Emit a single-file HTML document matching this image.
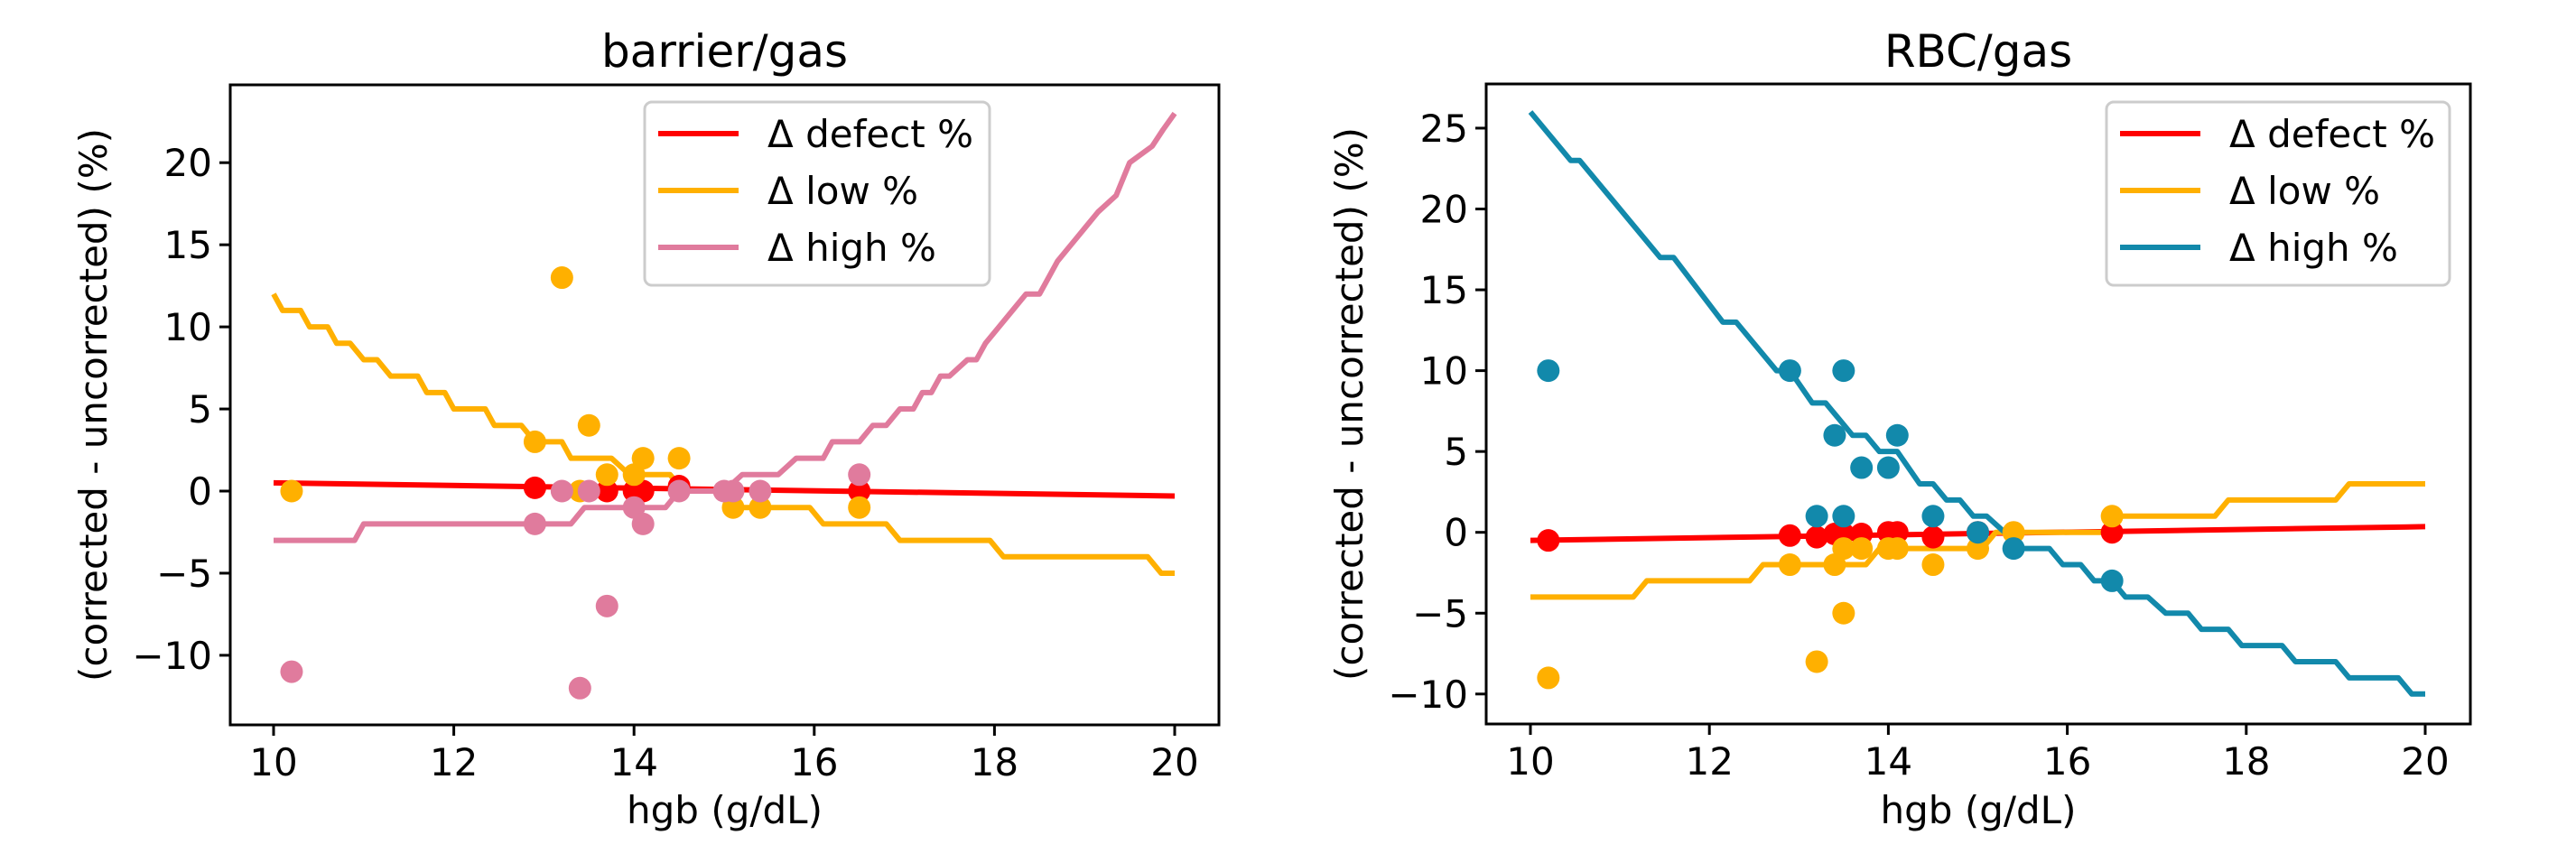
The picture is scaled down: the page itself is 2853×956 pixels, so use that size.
<!DOCTYPE html>
<html><head><meta charset="utf-8"><style>
body{margin:0;background:#fff}
svg text{font-family:"DejaVu Sans","Liberation Sans",sans-serif;fill:#000}
</style></head><body>
<svg id="fig" width="2853" height="951" viewBox="0 0 2853 951" xmlns="http://www.w3.org/2000/svg"></svg>
<script>
// ---- data: barrier/gas ----
const barXTicks=[10,12,14,16,18,20];
const barYTicks=[-10,-5,0,5,10,15,20];
const barDefectLine=[[10,0.5],[20,-0.3]];
const barLowLine=[[10,12],[10.1,11],[10.3,11],[10.4,10],[10.6,10],[10.7,9],[10.85,9],[11,8],[11.15,8],[11.3,7],[11.6,7],[11.7,6],[11.9,6],[12,5],[12.35,5],[12.45,4],[12.75,4],[12.9,3],[13.2,3],[13.3,2],[13.75,2],[13.95,1],[14.4,1],[14.55,0],[15,0],[15.1,-1],[15.95,-1],[16.1,-2],[16.8,-2],[16.95,-3],[17.95,-3],[18.1,-4],[19.7,-4],[19.85,-5],[20,-5]];
const barHighLine=[[10,-3],[10.9,-3],[11,-2],[13.3,-2],[13.45,-1],[14.35,-1],[14.5,0],[15,0],[15.2,1],[15.6,1],[15.8,2],[16.1,2],[16.2,3],[16.5,3],[16.65,4],[16.8,4],[16.95,5],[17.1,5],[17.2,6],[17.3,6],[17.4,7],[17.5,7],[17.7,8],[17.8,8],[17.9,9],[18.05,10],[18.2,11],[18.35,12],[18.5,12],[18.6,13],[18.7,14],[18.85,15],[19,16],[19.15,17],[19.35,18],[19.5,20],[19.75,21],[19.87,22],[20,23]];
const barDefectPts=[[12.9,0.2],[13.7,0],[14,0],[14.1,0],[14.5,0.3],[16.5,0]];
const barLowPts=[[10.2,0],[13.2,13],[12.9,3],[13.5,4],[13.7,1],[14,1],[14.1,2],[14.5,2],[13.4,0],[15.1,-1],[15.4,-1],[16.5,-1]];
const barHighPts=[[10.2,-11],[12.9,-2],[13.2,0],[13.4,-12],[13.5,0],[13.7,-7],[14,-1],[14.1,-2],[14.5,0],[15,0],[15.1,0],[15.4,0],[16.5,1]];
// ---- data: RBC/gas ----
const rbcXTicks=[10,12,14,16,18,20];
const rbcYTicks=[-10,-5,0,5,10,15,20,25];
const rbcDefectLine=[[10,-0.5],[20,0.35]];
const rbcLowLine=[[10,-4],[11.15,-4],[11.3,-3],[12.45,-3],[12.6,-2],[13.75,-2],[13.9,-1],[15.05,-1],[15.2,0],[16.4,0],[16.5,1],[17.65,1],[17.8,2],[19,2],[19.15,3],[20,3]];
const rbcHighLine=[[10,26],[10.45,23],[10.55,23],[11.45,17],[11.6,17],[12.15,13],[12.3,13],[12.75,10],[12.9,10],[13.15,8],[13.3,8],[13.6,6],[13.75,6],[13.9,5],[14.1,5],[14.35,3],[14.5,3],[14.65,2],[14.8,2],[14.95,1],[15.1,1],[15.3,0],[15.35,0],[15.5,-1],[15.8,-1],[15.95,-2],[16.15,-2],[16.3,-3],[16.5,-3],[16.65,-4],[16.9,-4],[17.1,-5],[17.35,-5],[17.5,-6],[17.8,-6],[17.95,-7],[18.4,-7],[18.55,-8],[19,-8],[19.15,-9],[19.7,-9],[19.85,-10],[20,-10]];
const rbcDefectPts=[[10.2,-0.5],[12.9,-0.2],[13.2,-0.3],[13.4,-0.1],[13.5,-0.1],[13.7,-0.1],[14,0],[14.1,0],[14.5,-0.3],[15,0],[16.5,0]];
const rbcLowPts=[[10.2,-9],[12.9,-2],[13.4,-2],[13.5,-1],[13.7,-1],[14,-1],[14.1,-1],[14.5,-2],[15,-1],[15.4,0],[16.5,1],[13.5,-5],[13.2,-8]];
const rbcHighPts=[[10.2,10],[12.9,10],[13.5,10],[13.4,6],[14.1,6],[13.7,4],[14,4],[13.2,1],[13.5,1],[14.5,1],[15,0],[15.4,-1],[16.5,-3]];

const NS="http://www.w3.org/2000/svg";
const svg=document.getElementById('fig');
function mk(tag,attrs,parent){const e=document.createElementNS(NS,tag);for(const k in attrs)e.setAttribute(k,attrs[k]);(parent||svg).appendChild(e);return e;}
const RED='#ff0000',ORG='#ffb000',PINK='#e07b9d',TEAL='#1289ab';

function panel(p){
  const g=mk('g',{});
  
  
  const X=v=>p.x0+(v-10)*(p.x1-p.x0)/10;
  const Y=v=>p.y0-(v)*p.py;
  // title
  const t=mk('text',{x:(p.L+p.R)/2,y:74,'font-size':50,'text-anchor':'middle'},g);t.textContent=p.title;
  
  
  // lines
  const lines=[[p.defL,RED,'defect-line'],[p.lowL,ORG,'low-line'],[p.highL,p.hc,'high-line']];
  lines.forEach(([d,c,n])=>{
    const pl=mk('polyline',{points:d.map(q=>X(q[0])+','+Y(q[1])).join(' '),fill:'none',stroke:c,'stroke-width':6,'stroke-linejoin':'round'},g);
    
    
  });
  // points
  const pts=[[p.defP,RED,'defect-point'],[p.lowP,ORG,'low-point'],[p.highP,p.hc,'high-point']];
  pts.forEach(([d,c,n])=>{d.forEach(q=>{
    const ci=mk('circle',{cx:X(q[0]),cy:Y(q[1]),r:12.5,fill:c},g);
    
    
  });});
  // frame
  const fr=mk('rect',{x:p.L,y:p.T,width:p.R-p.L,height:p.B-p.T,fill:'none',stroke:'#000','stroke-width':3},g);
  
  
  p.xt.forEach(v=>{
    mk('line',{x1:X(v),x2:X(v),y1:p.B,y2:p.B+12,stroke:'#000','stroke-width':3},g);
    const tx=mk('text',{x:X(v),y:p.B+56,'font-size':42,'text-anchor':'middle'},g);tx.textContent=v;
    
    
  });
  p.yt.forEach(v=>{
    mk('line',{x1:p.L-12,x2:p.L,y1:Y(v),y2:Y(v),stroke:'#000','stroke-width':3},g);
    const tx=mk('text',{x:p.L-20,y:Y(v)+15,'font-size':42,'text-anchor':'end'},g);tx.textContent=v<0?'\u2212'+(-v):v;
    
    
  });
  const xl=mk('text',{x:(p.L+p.R)/2,y:912,'font-size':42,'text-anchor':'middle'},g);xl.textContent='hgb (g/dL)';
  
  
  const yl=mk('text',{x:0,y:0,'font-size':42,'text-anchor':'middle',transform:`translate(${p.ylx},${(p.T+p.B)/2}) rotate(-90)`},g);yl.textContent='(corrected - uncorrected) (%)';
  
  
  // legend
  const lg=mk('g',{},g);
  
  
  mk('rect',{x:p.lgx,y:113,width:p.lgw,height:203,rx:8,fill:'#fff','fill-opacity':0.8,stroke:'#cccccc','stroke-width':3},lg);
  [['\u0394 defect %',RED],['\u0394 low %',ORG],['\u0394 high %',p.hc]].forEach((e,i)=>{
    const yy=148+i*63;
    const ln=mk('line',{x1:p.lgx+15,x2:p.lgx+104,y1:yy,y2:yy,stroke:e[1],'stroke-width':6},lg);
    
    
    const tx=mk('text',{x:p.lgx+136,y:yy+15,'font-size':42},lg);tx.textContent=e[0];
    
    
  });
}
panel({name:'barrier-gas-chart',title:'barrier/gas',L:255,R:1350,T:94,B:803,x0:303,x1:1301,y0:544,py:18.19,xt:barXTicks,yt:barYTicks,ylx:118,
  defL:barDefectLine,lowL:barLowLine,highL:barHighLine,defP:barDefectPts,lowP:barLowPts,highP:barHighPts,hc:PINK,lgx:714,lgw:382});
panel({name:'rbc-gas-chart',title:'RBC/gas',L:1646,R:2636+100,T:93,B:802,x0:1695,x1:2686,y0:589.7,py:17.91,xt:rbcXTicks,yt:rbcYTicks,ylx:1509,
  defL:rbcDefectLine,lowL:rbcLowLine,highL:rbcHighLine,defP:rbcDefectPts,lowP:rbcLowPts,highP:rbcHighPts,hc:TEAL,lgx:2333,lgw:380});
</script>
</body></html>
